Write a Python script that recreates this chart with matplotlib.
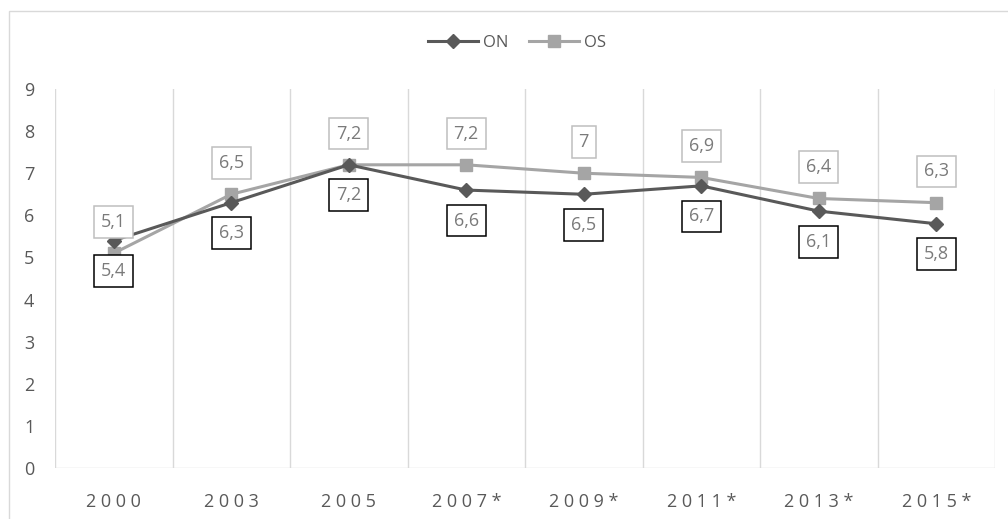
import matplotlib
matplotlib.use("Agg")
import matplotlib.pyplot as plt
from matplotlib.patches import Rectangle

plt.rcParams['font.family'] = ['Open Sans', 'DejaVu Sans']

years = ["2000", "2003", "2005", "2007*", "2009*", "2011*", "2013*", "2015*"]
on_values = [5.4, 6.3, 7.2, 6.6, 6.5, 6.7, 6.1, 5.8]
os_values = [5.1, 6.5, 7.2, 7.2, 7.0, 6.9, 6.4, 6.3]

DARK = "#595959"
LIGHT = "#a5a5a5"
GRID = "#d9d9d9"
TEXT = "#595959"
LABEL = "#7a7a7a"

W, H = 1008, 519
fig = plt.figure(figsize=(W / 100, H / 100), dpi=100)

# outer chart border
fig.patches.append(Rectangle((9 / W, -0.1), 1.2, 1.1 - 11 / H,
                             transform=fig.transFigure, fill=False,
                             edgecolor=GRID, linewidth=1.0))

ax = fig.add_axes([55 / W, (H - 468) / H, (995 - 55) / W, (468 - 89) / H])
x = [i + 0.5 for i in range(len(years))]

ax.plot(x, on_values, color=DARK, lw=2.2, marker="D", markersize=7.5,
        label="ON", zorder=4)
ax.plot(x, os_values, color=LIGHT, lw=2.2, marker="s", markersize=9,
        label="OS", zorder=3)

for xi, v in zip(x, on_values):
    ax.annotate(f"{v:g}".replace(".", ","), (xi, v), xytext=(0, -22),
                textcoords="offset points", ha="center", va="center",
                fontsize=13, color=LABEL, zorder=5,
                bbox=dict(boxstyle="square,pad=0.38", fc="white",
                          ec="black", lw=1.1))
for xi, v in zip(x, os_values):
    ax.annotate(f"{v:g}".replace(".", ","), (xi, v), xytext=(0, 22.5),
                textcoords="offset points", ha="center", va="center",
                fontsize=13, color=LABEL, zorder=5,
                bbox=dict(boxstyle="square,pad=0.38", fc="white",
                          ec="#bfbfbf", lw=1.1))

ax.set_xlim(0, len(years))
ax.set_ylim(0, 9)
ax.set_yticks(range(10))
ax.set_xticks(x)
ax.set_xticklabels([" ".join(y) for y in years])
for i in range(len(years) + 1):
    ax.axvline(i, color=GRID, lw=1.0, zorder=1)
for s in ax.spines.values():
    s.set_visible(False)
ax.axhline(0, color=GRID, lw=1.0, zorder=1)
ax.tick_params(axis="both", length=0, labelsize=13, colors=TEXT)
ax.tick_params(axis="x", pad=18)
ax.tick_params(axis="y", pad=15)

fig.legend(loc="center", bbox_to_anchor=(517 / W, 1 - 43 / H), ncol=2,
           frameon=False, fontsize=12, labelcolor=TEXT, handlelength=3.0,
           handletextpad=0.3, columnspacing=1.2)

fig.savefig("out.png", dpi=100)
